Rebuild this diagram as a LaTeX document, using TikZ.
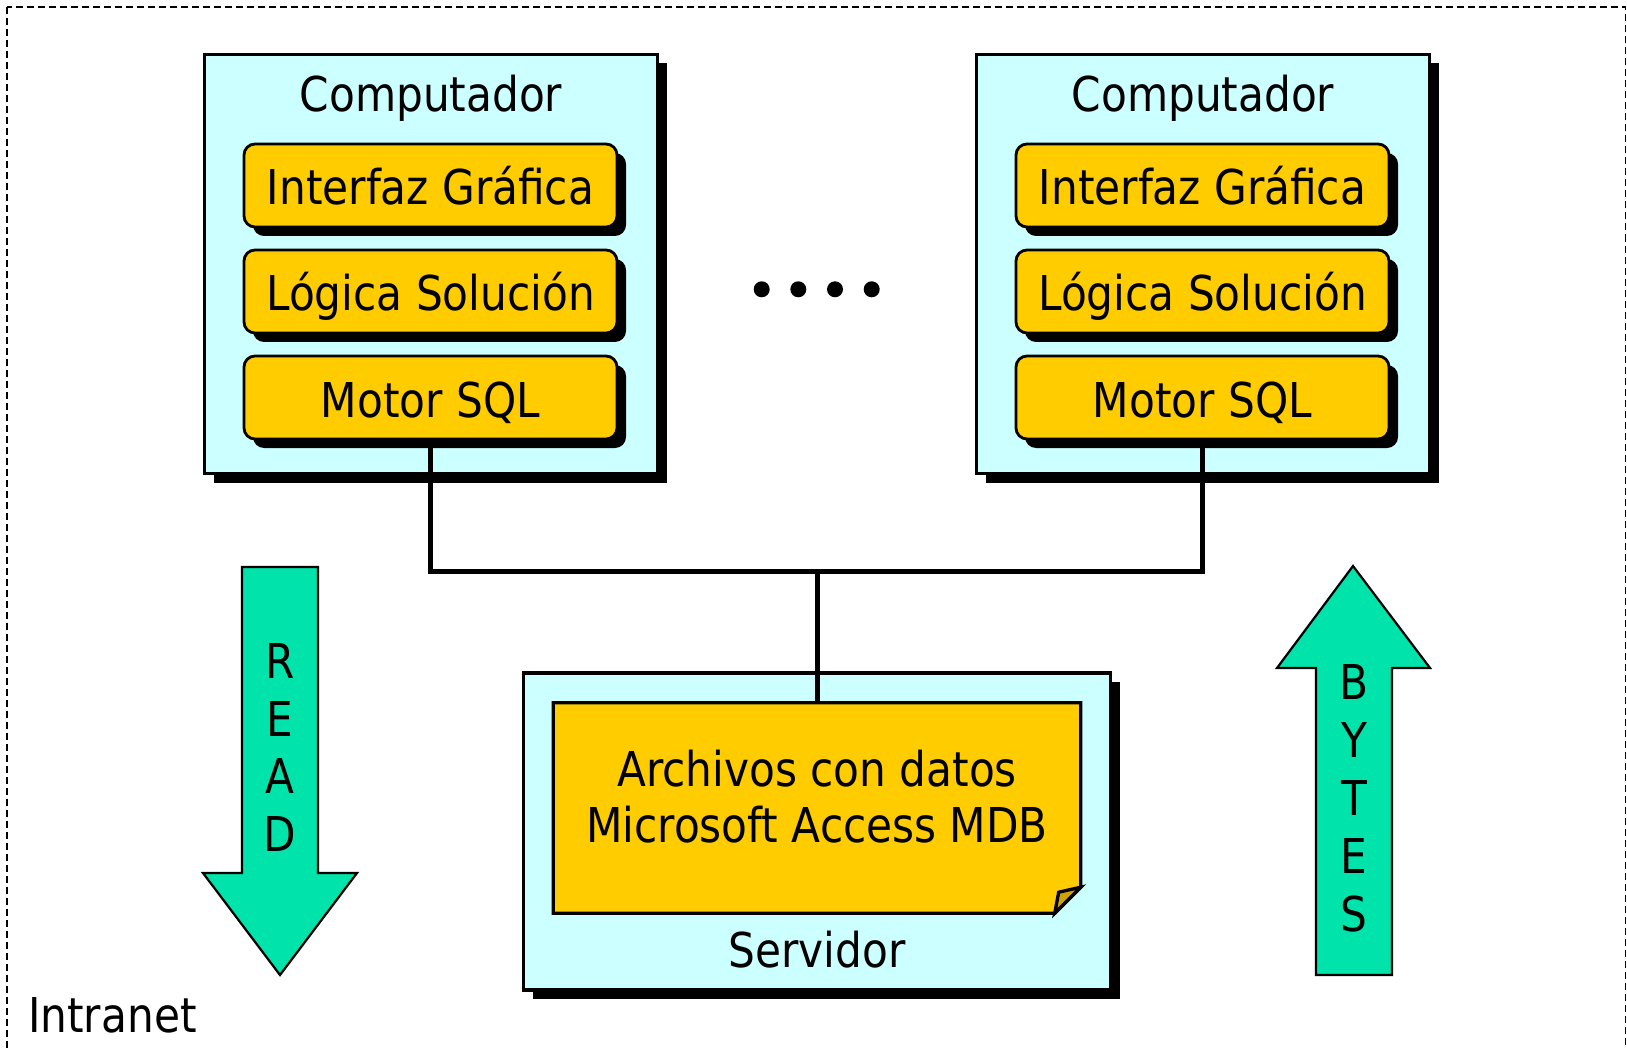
\documentclass[tikz,border=0pt]{standalone}
\usepackage{fontspec}
\setmainfont{DejaVu Sans}[FakeStretch=0.88]
\usetikzlibrary{shadows}
\definecolor{cyanbg}{HTML}{CCFFFF}
\definecolor{boxgold}{HTML}{FFCC00}
\definecolor{flapgold}{HTML}{CCA300}
\definecolor{arrowgreen}{HTML}{00E3AA}
\begin{document}
\begin{tikzpicture}[x=1pt,y=-1pt,
  txt/.style={font=\fontsize{48}{58}\selectfont, inner sep=0pt},
  boxshadow/.style={drop shadow={shadow xshift=9pt, shadow yshift=-9pt, fill=black, opacity=1}},
  hostbox/.style={draw=black, line width=3.3pt, fill=cyanbg, inner sep=0pt,
    minimum width=453pt, minimum height=419pt, boxshadow},
  layer/.style={txt, draw=black, line width=2.8pt, fill=boxgold, rounded corners=11pt,
    minimum width=373pt, minimum height=83pt, text height=39pt, text depth=0pt, boxshadow},
  docline/.style={draw=black, line width=3.3pt, line join=miter},
  conn/.style={draw=black, line width=5pt},
  dot/.style={circle, fill=black, minimum size=16pt, inner sep=0pt},
  bigarrow/.style={draw=black, line width=2.2pt, fill=arrowgreen, line join=miter},
  frame/.style={draw=black, line width=1.7pt, dash pattern=on 7pt off 4pt}
]
\useasboundingbox (0,0) rectangle (1627,1048);
\clip (0,0) rectangle (1627,1048);

% Intranet frame
\draw[frame] (7,7) rectangle (1625.5,1075);
\node[txt, anchor=base west] (intranet) at (28,1032) {Intranet};

% Left computer
\node[hostbox] (pc1) at (431,264) {};
\node[txt, anchor=base] (pc1t) at (431,111.7) {Computador};
\node[layer] (gui1) at (430.5,185.5) {Interfaz Gráfica};
\node[layer] (logic1) at (430.5,291.5) {Lógica Solución};
\node[layer] (sql1) at (430.5,397.5) {Motor SQL};

% Right computer
\node[hostbox] (pc2) at (1203,264) {};
\node[txt, anchor=base] (pc2t) at (1203,111.7) {Computador};
\node[layer] (gui2) at (1202.5,185.5) {Interfaz Gráfica};
\node[layer] (logic2) at (1202.5,291.5) {Lógica Solución};
\node[layer] (sql2) at (1202.5,397.5) {Motor SQL};

% dots
\foreach \x [count=\i] in {761.7,798.3,835,871.7}
  \node[dot] (dot\i) at (\x,289.3) {};

% Server
\node[hostbox, minimum width=587pt, minimum height=317pt] (srv) at (817,831.5) {};
\node[inner sep=0pt, minimum width=527pt, minimum height=210pt] (doc) at (817,808) {};
\draw[docline, fill=boxgold] (doc.north west) -- (doc.north east) -- ([yshift=26pt]doc.south east)
  -- ([xshift=-26pt]doc.south east) -- (doc.south west) -- cycle;
\draw[docline, fill=flapgold] ([xshift=-26pt]doc.south east) -- ([xshift=-22pt,yshift=21pt]doc.south east)
  -- ([yshift=26pt]doc.south east) -- cycle;
\node[txt, anchor=base] (doct1) at (817,786) {Archivos con datos};
\node[txt, anchor=base] (doct2) at (817,842.5) {Microsoft Access MDB};
\node[txt, anchor=base] (srvt) at (817,967.8) {Servidor};

% connectors
\coordinate (bus) at (817,571.5);
\draw[conn] (sql1.south) |- (bus) -| (sql2.south);
\draw[conn] (bus) -- (doc.north);

% READ arrow
\draw[bigarrow] (242,567) -- (318,567) -- (318,873) -- (357,873) -- (280,975)
  -- (203,873) -- (242,873) -- cycle;
\foreach \l [count=\i] in {R,E,A,D}
  \node[txt] (read\i) at (280,{661+57.7*(\i-1)}) {\l};

% BYTES arrow
\draw[bigarrow] (1353,566) -- (1430,668) -- (1392,668) -- (1392,975) -- (1316,975)
  -- (1316,668) -- (1277,668) -- cycle;
\foreach \l [count=\i] in {B,Y,T,E,S}
  \node[txt] (bytes\i) at (1354,{682+58*(\i-1)}) {\l};
\end{tikzpicture}
\end{document}
